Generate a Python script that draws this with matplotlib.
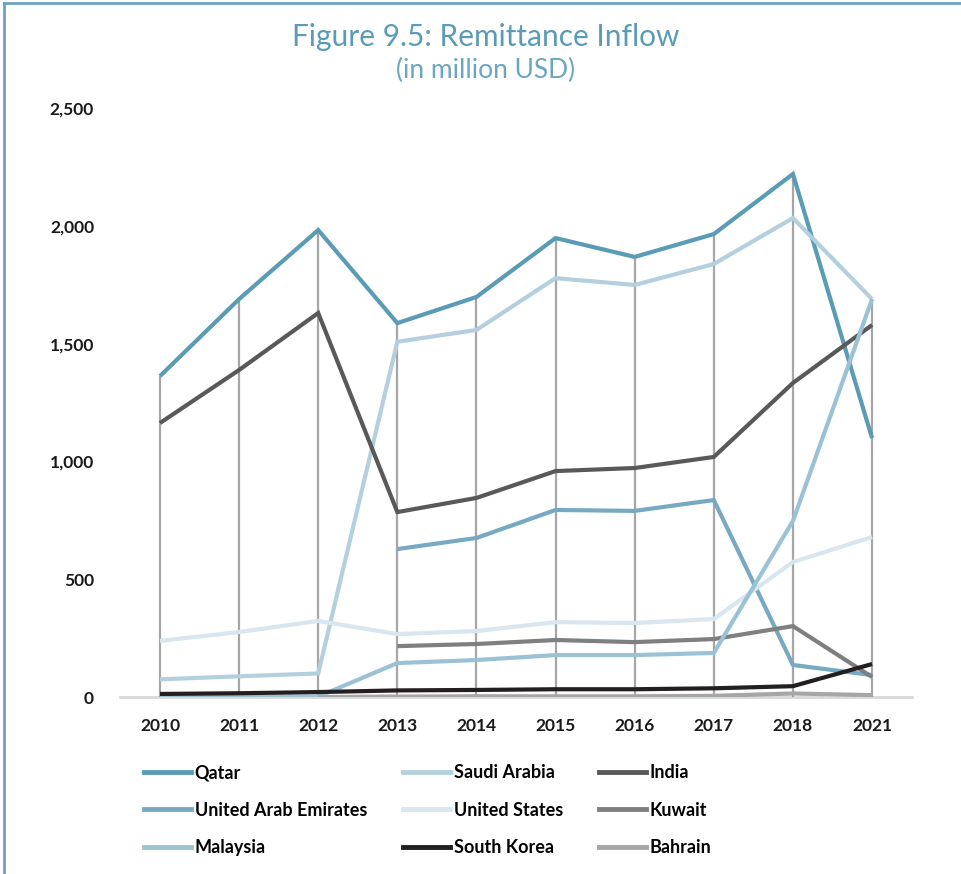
import numpy as np
import matplotlib.pyplot as plt
from matplotlib.lines import Line2D

years = ['2010', '2011', '2012', '2013', '2014', '2015', '2016', '2017', '2018', '2021']
nan = np.nan

qatar = [1362, 1689, 1982, 1587, 1698, 1948, 1868, 1965, 2220, 1099]
saudi = [75, 88, 100, 1508, 1558, 1778, 1749, 1838, 2033, 1689]
india = [1163, 1388, 1630, 785, 845, 959, 972, 1019, 1333, 1579]
uae = [nan, nan, nan, 628, 675, 794, 790, 836, 136, 93]
usa = [238, 276, 323, 267, 280, 318, 314, 331, 573, 679]
kuwait = [nan, nan, nan, 216, 225, 242, 233, 246, 301, 85]
malaysia = [2, 2, 2, 144, 157, 178, 178, 187, 747, 1689]
korea = [13, 16, 21, 28, 30, 33, 33, 37, 46, 140]
bahrain = [nan, nan, 0, 2, 3, 3, 3, 5, 15, 8]

series = [
    ('Qatar', qatar, '#5a9bb6'),
    ('Saudi Arabia', saudi, '#b4d0de'),
    ('India', india, '#595959'),
    ('United Arab Emirates', uae, '#77aac2'),
    ('United States', usa, '#d8e6ef'),
    ('Kuwait', kuwait, '#7f7f80'),
    ('Malaysia', malaysia, '#9bc2d4'),
    ('South Korea', korea, '#231f20'),
    ('Bahrain', bahrain, '#a6a6a6'),
]

fig = plt.figure(figsize=(9.61, 8.74), dpi=100)
ax = fig.add_axes([0.1253, 0.2025, 0.8233, 0.6739])

x = np.arange(len(years))

# drop lines from the highest value down to the axis
tops = np.nanmax(np.array([s[1] for s in series], dtype=float), axis=0)
ax.vlines(x, 0, tops, color='#a6a6a6', linewidth=1.6, zorder=1)

for name, vals, col in series:
    ax.plot(x, vals, color=col, linewidth=3, label=name, zorder=2,
            solid_capstyle='butt', solid_joinstyle='miter')

ax.set_xlim(-0.5, len(years) - 0.5)
ax.set_ylim(0, 2500)
ax.set_yticks(np.arange(0, 2501, 500))
ax.set_yticklabels([f'{v:,}' for v in range(0, 2501, 500)])
ax.set_xticks(x)
ax.set_xticklabels(years)
for lab in ax.get_xticklabels() + ax.get_yticklabels():
    lab.set_fontfamily('Lato')
    lab.set_fontweight('bold')
    lab.set_fontsize(12.5)
    lab.set_color('#1a1a1a')
ax.tick_params(axis='y', length=0, pad=19)
ax.tick_params(axis='x', length=0, pad=15)

for side in ['top', 'right', 'left']:
    ax.spines[side].set_visible(False)
ax.spines['bottom'].set_color('#d9d9d9')
ax.spines['bottom'].set_linewidth(2)
ax.spines['bottom'].set_zorder(0)

fig.text(0.505, 0.958, 'Figure 9.5: Remittance Inflow', ha='center', va='center',
         fontsize=21.5, color='#5a9bb6', family='Lato')
fig.text(0.505, 0.919, '(in million USD)', ha='center', va='center',
         fontsize=19, color='#6aa6c0', family='Lato')

# legend, filled column by column
order = [0, 3, 6, 1, 4, 7, 2, 5, 8]
handles = [Line2D([], [], color=series[i][2], linewidth=3.5) for i in order]
labels = [series[i][0] for i in order]
fig.legend(handles, labels, ncol=3, loc='upper left', bbox_to_anchor=(0.133, 0.144),
           frameon=False, handlelength=2.6, handletextpad=0.2, columnspacing=2.0,
           labelspacing=1.12, prop={'family': 'Lato', 'weight': 'bold', 'size': 13})

# frame around the figure
fig.add_artist(Line2D([0.004, 0.004], [0, 0.996], transform=fig.transFigure,
                      color='#6aa3bf', linewidth=2))
fig.add_artist(Line2D([0.004, 1.0], [0.996, 0.996], transform=fig.transFigure,
                      color='#6aa3bf', linewidth=2))

plt.savefig('out.png', dpi=100)
